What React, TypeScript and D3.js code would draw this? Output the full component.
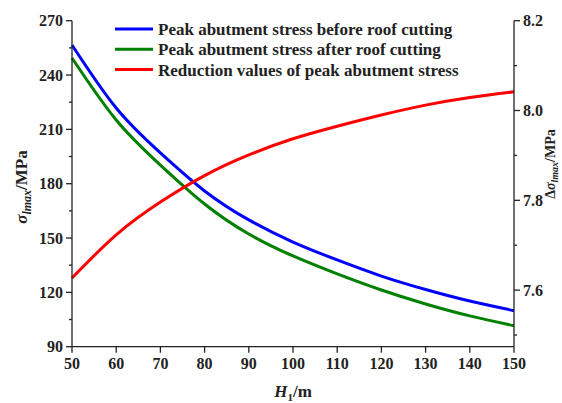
import React from "react";
import * as d3 from "d3";

const H1 = [50, 60, 70, 80, 90, 100, 110, 120, 130, 140, 150];
const before = [256.6, 221.8, 197.0, 176.0, 160.0, 147.8, 137.9, 129.0, 121.6, 115.2, 109.9];
const after = [249.4, 215.2, 190.3, 168.8, 152.2, 140.1, 130.2, 121.3, 113.6, 107.0, 101.6];
const reduction = [7.627, 7.723, 7.796, 7.855, 7.901, 7.937, 7.965, 7.99, 8.012, 8.029, 8.042];

const leftTicks = [90, 120, 150, 180, 210, 240, 270];
const leftMinor = [105, 135, 165, 195, 225, 255];
const rightTicks = [7.6, 7.8, 8.0, 8.2];
const rightMinor = [7.5, 7.7, 7.9, 8.1];
const xTicks = [50, 60, 70, 80, 90, 100, 110, 120, 130, 140, 150];

const legendItems = [
  { label: "Peak abutment stress before roof cutting", color: "#0000ff" },
  { label: "Peak abutment stress after roof cutting", color: "#008000" },
  { label: "Reduction values of peak abutment stress", color: "#ff0000" },
];

export default function App() {
  const L = 72, R = 514, T = 20.7, B = 346.7;
  const x = d3.scaleLinear().domain([50, 150]).range([L, R]);
  const yL = d3.scaleLinear().domain([90, 270]).range([B, T]);
  const yR = d3.scaleLinear().domain([7.474, 8.2]).range([B, T]);
  const lineL = d3
    .line<number>()
    .x((_, i) => x(H1[i]))
    .y((d) => yL(d))
    .curve(d3.curveNatural);
  const lineR = d3
    .line<number>()
    .x((_, i) => x(H1[i]))
    .y((d) => yR(d))
    .curve(d3.curveNatural);
  const font = "'Liberation Serif', 'Times New Roman', serif";

  return (
    <svg
      width={562}
      height={403}
      style={{ position: "absolute", left: 0, top: 0, background: "#fff" }}
      fontFamily={font}
    >
      <rect x={0} y={0} width={562} height={403} fill="#fff" />
      <path d={lineL(before) || ""} fill="none" stroke="#0000ff" strokeWidth={3} />
      <path d={lineL(after) || ""} fill="none" stroke="#008000" strokeWidth={3} />
      <path d={lineR(reduction) || ""} fill="none" stroke="#ff0000" strokeWidth={3} />

      <g stroke="#222" strokeWidth={1.3}>
        <line x1={L} x2={L} y1={T} y2={B} />
        <line x1={R} x2={R} y1={T} y2={B} />
        <line x1={L} x2={R} y1={B} y2={B} />
        {leftTicks.map((t) => (
          <line key={"lt" + t} x1={L - 6} x2={L} y1={yL(t)} y2={yL(t)} />
        ))}
        {leftMinor.map((t) => (
          <line key={"lm" + t} x1={L - 3} x2={L} y1={yL(t)} y2={yL(t)} />
        ))}
        {rightTicks.map((t) => (
          <line key={"rt" + t} x1={R} x2={R + 6} y1={yR(t)} y2={yR(t)} />
        ))}
        {rightMinor.map((t) => (
          <line key={"rm" + t} x1={R} x2={R + 3} y1={yR(t)} y2={yR(t)} />
        ))}
        {xTicks.map((t) => (
          <line key={"xt" + t} x1={x(t)} x2={x(t)} y1={B} y2={B + 6} />
        ))}
      </g>

      <g fontSize={16} fontWeight="bold" fill="#222">
        {leftTicks.map((t) => (
          <text key={"ll" + t} x={L - 9} y={yL(t)} dy="0.35em" textAnchor="end">
            {t}
          </text>
        ))}
        {rightTicks.map((t) => (
          <text key={"rl" + t} x={R + 9} y={yR(t)} dy="0.35em" textAnchor="start">
            {t.toFixed(1)}
          </text>
        ))}
        {xTicks.map((t) => (
          <text key={"xl" + t} x={x(t)} y={B + 22} textAnchor="middle">
            {t}
          </text>
        ))}
      </g>

      <text x={293} y={397} textAnchor="middle" fontSize={17} fontWeight="bold" fill="#222">
        <tspan fontStyle="italic">H</tspan>
        <tspan fontSize={11} dy={4}>1</tspan>
        <tspan dy={-4}>/m</tspan>
      </text>
      <text
        transform="translate(27,187) rotate(-90)"
        textAnchor="middle"
        fontSize={17}
        fontWeight="bold"
        fill="#222"
      >
        <tspan fontStyle="italic">σ</tspan>
        <tspan fontStyle="italic" fontSize={12} dy={4}>lmax</tspan>
        <tspan dy={-4}>/MPa</tspan>
      </text>
      <text
        transform="translate(555,164) rotate(-90)"
        textAnchor="middle"
        fontSize={14}
        fontWeight="bold"
        fill="#222"
      >
        <tspan>Δ</tspan>
        <tspan fontStyle="italic">σ</tspan>
        <tspan fontStyle="italic" fontSize={10} dy={3}>lmax</tspan>
        <tspan dy={-3}>/MPa</tspan>
      </text>

      <g>
        {legendItems.map((it, i) => (
          <g key={it.label} transform={`translate(0,${29 + i * 20.3})`}>
            <line x1={115} x2={153} y1={0} y2={0} stroke={it.color} strokeWidth={3} />
            <text x={158} y={0} dy="0.35em" fontSize={17} fontWeight="bold" fill="#222">
              {it.label}
            </text>
          </g>
        ))}
      </g>
    </svg>
  );
}
